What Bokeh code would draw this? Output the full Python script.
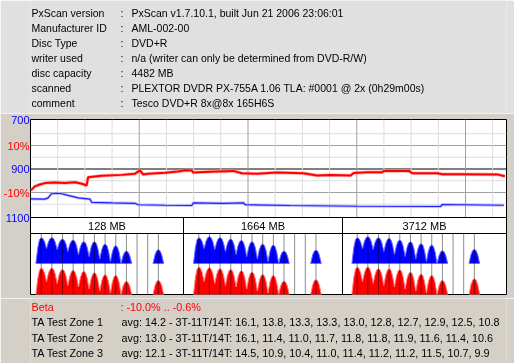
from bokeh.plotting import figure
from bokeh.layouts import column
from bokeh.models import Range1d, LinearAxis, FixedTicker, Span
from bokeh.core.properties import value
from bokeh.embed import file_html
from bokeh.resources import INLINE

# ---------------- data ----------------
info_labels = ["PxScan version", "Manufacturer ID", "Disc Type", "writer used",
               "disc capacity", "scanned", "comment"]
info_values = ["PxScan v1.7.10.1, built Jun 21 2006 23:06:01", "AML-002-00", "DVD+R",
               "n/a (writer can only be determined from DVD-R/W)", "4482 MB",
               "PLEXTOR DVDR PX-755A 1.06 TLA: #0001 @ 2x (0h29m00s)",
               "Tesco DVD+R 8x@8x 165H6S"]
capacity_mb = 4482

beta_mb = [3, 41, 88, 135, 229, 324, 418, 484, 528, 543, 670, 859, 984, 1031, 1060, 1107,
           1267, 1390, 1456, 1519, 1531, 1692, 1909, 1991, 2133, 2321, 2569, 2699, 2824,
           3013, 3044, 3170, 3312, 3327, 3563, 3595, 3831, 3878, 4051, 4397, 4466]
beta_pct = [-9.1, -7.4, -6.6, -6.0, -5.7, -6.0, -5.6, -6.3, -7.0, -3.5, -2.9, -2.5, -2.0,
            -0.6, -2.3, -2.0, -1.6, -1.1, -0.5, -0.6, -1.5, -1.2, -0.8, -1.8, -2.0, -1.5,
            -1.8, -2.8, -2.6, -2.8, -1.7, -1.4, -1.4, -0.8, -0.8, -1.8, -1.8, -2.2, -2.2,
            -2.3, -3.1]
jitter_mb = [3, 135, 166, 198, 245, 293, 355, 449, 560, 576, 764, 984, 1015, 1267, 1519,
             1534, 1817, 2006, 2022, 2447, 3076, 3862, 3878, 4457]
jitter_val = [1024, 1025, 1020, 1003, 1001, 1003, 1010, 1020, 1025, 1038, 1040, 1042, 1048,
              1050, 1051, 1040, 1042, 1040, 1048, 1051, 1054, 1055, 1047, 1050]
blue_ticks = [700, 900, 1100]
red_ticks = [10, -10]
red_tick_labels = ["10%", "-10%"]

ta_zone_titles = ["128 MB", "1664 MB", "3712 MB"]
ta_lengths = [3, 4, 5, 6, 7, 8, 9, 10, 11, 14]
ta_marks = [3, 4, 5, 6, 7, 8, 9, 10, 11, 12, 13, 14]
ta_blue = [[25.7, 25.7, 24.3, 23.3, 21.7, 21.7, 19.3, 17.7, 12.3, 13.7],
           [25.7, 26.7, 25.7, 24.3, 23.0, 21.7, 19.3, 18.3, 12.3, 13.3],
           [25.7, 26.7, 25.7, 25.0, 23.3, 21.7, 19.7, 18.3, 12.7, 14.0]]
ta_red = [[26.3, 26.3, 25.0, 24.0, 23.0, 21.7, 19.7, 19.0, 13.0, 14.0],
          [27.3, 26.7, 25.7, 25.0, 23.7, 22.3, 20.0, 19.0, 13.3, 14.7],
          [27.3, 27.3, 25.7, 25.7, 24.7, 22.3, 20.3, 19.0, 14.0, 15.7]]
ta_blue_valley = [15, 14, 12, 9, 7, 4.5, 2, 0, 0]
ta_red_valley = [13, 11, 9, 7.5, 5.5, 3.5, 1.5, 0, 0]

beta_label = "Beta"
beta_text = ": -10.0% .. -0.6%"
zone_labels = ["TA Test Zone 1", "TA Test Zone 2", "TA Test Zone 3"]
zone_texts = ["avg: 14.2 - 3T-11T/14T: 16.1, 13.8, 13.3, 13.3, 13.0, 12.8, 12.7, 12.9, 12.5, 10.8",
              "avg: 13.0 - 3T-11T/14T: 16.1, 11.4, 11.0, 11.7, 11.8, 11.8, 11.9, 11.6, 11.4, 10.6",
              "avg: 12.1 - 3T-11T/14T: 14.5, 10.9, 10.4, 11.0, 11.4, 11.2, 11.2, 11.5, 10.7, 9.9"]

# ---------------- layout / style ----------------
W = 514
HEADER_H = 113
TOP_B, CHART_PX, HIST_PX, BOT_B = 6, 98, 77, 4
MAIN_H = TOP_B + CHART_PX + HIST_PX + BOT_B
FOOTER_H = 363 - HEADER_H - MAIN_H
FRAME_L, FRAME_W = 30, 476
FRAME_R = W - FRAME_L - FRAME_W
BEIGE = "#D4D0C8"
HEADER_BG = "#E0E0E0"
FONT = value("Liberation Sans")
FS = "10.5px"


def text_fig(h, bg):
    # same borders as the chart so that the column keeps frames aligned;
    # x data units equal page pixels
    f = figure(width=W, height=h, x_range=Range1d(FRAME_L, FRAME_L + FRAME_W),
               y_range=Range1d(h, 0), output_backend="svg", toolbar_location=None,
               min_border_left=FRAME_L, min_border_right=FRAME_R,
               min_border_top=0, min_border_bottom=0,
               x_axis_location=None, y_axis_location=None)
    f.xgrid.visible = False
    f.ygrid.visible = False
    f.outline_line_color = None
    f.background_fill_color = bg
    f.border_fill_color = bg
    return f


# header
hdr = text_fig(HEADER_H, HEADER_BG)
rows_y = [12.3 + 15 * i for i in range(len(info_labels))]
hdr.text(x=[31] * len(rows_y), y=rows_y, text=info_labels, text_font=FONT,
         text_font_size=FS, text_baseline="middle", text_color="black")
hdr.text(x=[120] * len(rows_y), y=rows_y, text=[":"] * len(rows_y), text_font=FONT,
         text_font_size=FS, text_baseline="middle", text_color="black")
hdr.text(x=[131] * len(rows_y), y=rows_y, text=info_values, text_font=FONT,
         text_font_size=FS, text_baseline="middle", text_color="black")

# main figure: line chart on top, TA histograms below
total_px = CHART_PX + HIST_PX
blue_bottom = 700 + (1100 - 700) * total_px / CHART_PX
zero_px, px_per_pct = 49.5, 2.35
p = figure(width=W, height=MAIN_H, x_range=Range1d(0, capacity_mb),
           y_range=Range1d(blue_bottom, 700), output_backend="svg",
           toolbar_location=None, x_axis_location=None, y_axis_location=None,
           min_border_left=FRAME_L, min_border_right=FRAME_R,
           min_border_top=TOP_B, min_border_bottom=BOT_B)
p.xgrid.visible = False
p.ygrid.visible = False
p.background_fill_color = "white"
p.border_fill_color = BEIGE
p.outline_line_color = "black"
p.extra_y_ranges = {
    "red": Range1d(-(total_px - zero_px) / px_per_pct, zero_px / px_per_pct),
    "hist": Range1d(0, total_px),
}
PX_PER_T = 10.65
t3_px = [10.7, 168.3, 326.7]
panel_px = [(0, 153), (153, 312), (312, FRAME_W)]
ranges = {}
for k, off in enumerate(t3_px):
    start = 3 - off / PX_PER_T
    ranges["p%d" % k] = Range1d(start, start + FRAME_W / PX_PER_T)
p.extra_x_ranges = ranges

# axes: blue scale next to the frame; red % axis stacked outside it, its labels
# pulled back (negative standoff) so both label sets share the same column
axis_style = dict(axis_line_color=None, major_tick_line_color=None, minor_tick_line_color=None,
                  major_tick_in=0, major_tick_out=0, minor_tick_in=0, minor_tick_out=0,
                  major_label_text_font="Liberation Sans", major_label_text_font_size="11px")
ax_blue = LinearAxis(ticker=FixedTicker(ticks=blue_ticks), major_label_text_color="#0000FF",
                     major_label_standoff=1, **axis_style)
ax_red = LinearAxis(y_range_name="red", ticker=FixedTicker(ticks=red_ticks),
                    major_label_overrides={t: s for t, s in zip(red_ticks, red_tick_labels)},
                    major_label_text_color="#FF0000", major_label_standoff=-27, **axis_style)
p.add_layout(ax_blue, "left")
p.add_layout(ax_red, "left")

# chart grid
for v in [-15, -5, 5, 15]:
    p.add_layout(Span(location=v, dimension="width", y_range_name="red",
                      line_color="#DDDDDD", line_width=1, level="underlay"))
for v in [-10, 10]:
    p.add_layout(Span(location=v, dimension="width", y_range_name="red",
                      line_color="#A0A0A0", line_width=1, level="underlay"))
p.add_layout(Span(location=0, dimension="width", y_range_name="red",
                  line_color="black", line_width=1, level="underlay"))
grid_mb = list(range(256, capacity_mb, 256))
light_mb = [m for m in grid_mb if m % 1024]
dark_mb = [m for m in grid_mb if m % 1024 == 0]
p.segment(x0=light_mb, y0=[HIST_PX] * len(light_mb), x1=light_mb, y1=[total_px] * len(light_mb),
          y_range_name="hist", line_color="#DDDDDD", line_width=1)
p.segment(x0=dark_mb, y0=[HIST_PX] * len(dark_mb), x1=dark_mb, y1=[total_px] * len(dark_mb),
          y_range_name="hist", line_color="#A0A0A0", line_width=1)

# chart lines
p.line(jitter_mb, jitter_val, line_color="#A8A8FF", line_width=3, line_alpha=0.7)
p.line(jitter_mb, jitter_val, line_color="#2020FF", line_width=1.2)
p.line(beta_mb, beta_pct, y_range_name="red", line_color="#FF9090", line_width=3.5, line_alpha=0.7)
p.line(beta_mb, beta_pct, y_range_name="red", line_color="#FF0000", line_width=2)

# TA histogram panels
HDR_LINE = HIST_PX - 16
BLUE_BASE = 31
EDGE = 0.5
SHOULDERS = [(0.32, 0.62), (0.16, 0.93)]


def build_patches(lengths, heights, valleys, base):
    xs, ys = [], []
    cx, cy = [], []
    n = len(lengths)
    for i in range(n):
        t, h = lengths[i], heights[i]
        vl = valleys[i - 1] if i > 0 else 0
        vr = valleys[i] if i < n - 1 else 0
        if vl <= 0:
            cx, cy = [t - EDGE], [0]
        for off, f in SHOULDERS:
            cx.append(t - off); cy.append(vl + (h - vl) * f)
        cx.append(t); cy.append(h)
        for off, f in reversed(SHOULDERS):
            cx.append(t + off); cy.append(vr + (h - vr) * f)
        if vr > 0:
            cx.append(t + 0.5); cy.append(vr)
        else:
            cx.append(t + EDGE); cy.append(0)
            xs.append(cx); ys.append([base + y for y in cy])
    return xs, ys


p.add_layout(Span(location=HDR_LINE, dimension="width", y_range_name="hist",
                  line_color="black", line_width=1))
p.add_layout(Span(location=HIST_PX, dimension="width", y_range_name="hist",
                  line_color="black", line_width=1))

for k in range(3):
    rn = "p%d" % k
    start = ranges[rn].start
    left_t = start + panel_px[k][0] / PX_PER_T
    right_t = start + panel_px[k][1] / PX_PER_T
    bx, by = build_patches(ta_lengths, ta_blue[k], ta_blue_valley, BLUE_BASE)
    p.patches(bx, by, x_range_name=rn, y_range_name="hist", fill_color="#0000FF",
              line_color="#7070FF", line_width=1)
    rx, ry = build_patches(ta_lengths, ta_red[k], ta_red_valley, 0)
    p.patches(rx, ry, x_range_name=rn, y_range_name="hist", fill_color="#FF0000",
              line_color="#FF8080", line_width=1)
    p.segment(x0=ta_marks, y0=[0] * len(ta_marks), x1=ta_marks, y1=[HDR_LINE] * len(ta_marks),
              x_range_name=rn, y_range_name="hist", line_color="black", line_alpha=0.45,
              line_width=1)
    p.text(x=[(left_t + right_t) / 2], y=[(HDR_LINE + HIST_PX) / 2], text=[ta_zone_titles[k]],
           x_range_name=rn, y_range_name="hist", text_font=FONT, text_font_size="11px",
           text_align="center", text_baseline="middle", text_color="black")
    if k > 0:
        p.segment(x0=[left_t], y0=[0], x1=[left_t], y1=[HIST_PX], x_range_name=rn,
                  y_range_name="hist", line_color="black", line_width=1)

# footer
ftr = text_fig(FOOTER_H, BEIGE)
FS_FOOT = "10.8px"
fy = [8.5 + 15.4 * i for i in range(4)]
ftr.text(x=[31], y=[fy[0]], text=[beta_label], text_font=FONT, text_font_size=FS_FOOT,
         text_baseline="middle", text_color="#FF0000")
ftr.text(x=[120], y=[fy[0]], text=[beta_text], text_font=FONT, text_font_size=FS_FOOT,
         text_baseline="middle", text_color="#FF0000")
ftr.text(x=[31] * 3, y=fy[1:], text=zone_labels, text_font=FONT, text_font_size=FS_FOOT,
         text_baseline="middle", text_color="black")
ftr.text(x=[121] * 3, y=fy[1:], text=zone_texts, text_font=FONT, text_font_size=FS_FOOT,
         text_baseline="middle", text_color="black")

layout = column(hdr, p, ftr, spacing=0,
                styles={"position": "fixed", "left": "0px", "top": "0px"})
open("out.html", "w").write(file_html(layout, INLINE))
